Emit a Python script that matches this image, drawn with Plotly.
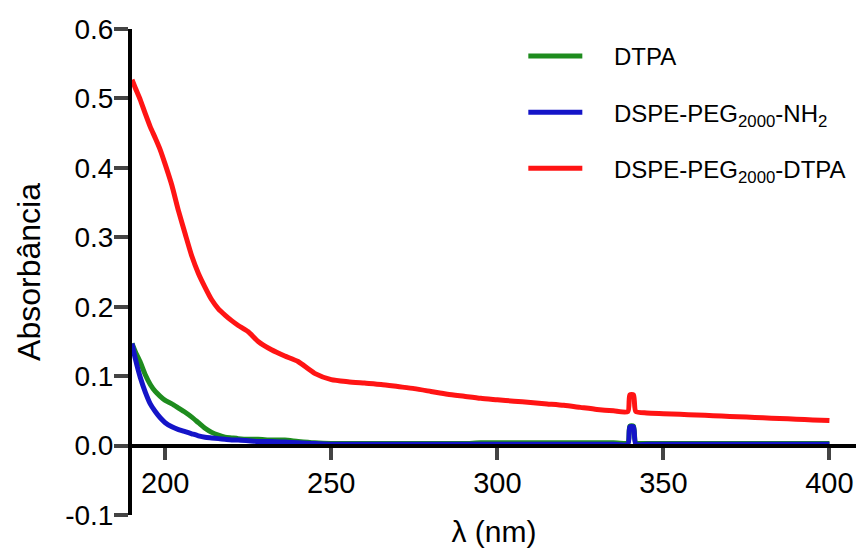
import plotly.graph_objects as go

wavelength = [190, 191, 192.5, 194, 195.5, 197, 198.5, 200, 202, 204, 206, 208, 210, 212, 214,
              216, 218, 220, 222, 225, 228, 232, 236, 240, 245, 250, 255, 260, 265, 270, 275,
              280, 285, 290, 295, 300, 305, 310, 315, 320, 325, 330, 335, 339.3, 339.9, 341.0,
              341.7, 345, 350, 355, 360, 365, 370, 375, 380, 385, 390, 395, 400]

abs_dtpa = [0.147, 0.135, 0.120, 0.102, 0.088, 0.078, 0.071, 0.065, 0.060, 0.054, 0.048, 0.041,
            0.033, 0.025, 0.019, 0.015, 0.012, 0.011, 0.010, 0.009, 0.009, 0.008, 0.008, 0.006,
            0.004, 0.003, 0.003, 0.003, 0.003, 0.003, 0.003, 0.003, 0.003, 0.003, 0.004, 0.004,
            0.004, 0.004, 0.004, 0.004, 0.004, 0.004, 0.004, 0.004, 0.028, 0.028, 0.004, 0.003,
            0.003, 0.003, 0.003, 0.003, 0.003, 0.003, 0.003, 0.003, 0.003, 0.003, 0.003]

abs_nh2 = [0.147, 0.125, 0.098, 0.077, 0.060, 0.049, 0.040, 0.033, 0.027, 0.023, 0.020, 0.017,
           0.014, 0.012, 0.011, 0.010, 0.009, 0.008, 0.008, 0.007, 0.006, 0.006, 0.005, 0.004,
           0.003, 0.002, 0.002, 0.002, 0.002, 0.002, 0.002, 0.002, 0.002, 0.002, 0.002, 0.002,
           0.002, 0.002, 0.002, 0.002, 0.002, 0.002, 0.002, 0.002, 0.027, 0.027, 0.002, 0.002,
           0.002, 0.002, 0.002, 0.002, 0.002, 0.002, 0.002, 0.002, 0.002, 0.002, 0.002]

abs_conj = [0.527, 0.515, 0.498, 0.478, 0.459, 0.443, 0.426, 0.405, 0.375, 0.338, 0.305, 0.273,
            0.248, 0.228, 0.210, 0.197, 0.188, 0.180, 0.173, 0.164, 0.150, 0.138, 0.129, 0.121,
            0.104, 0.095, 0.092, 0.090, 0.088, 0.085, 0.082, 0.078, 0.074, 0.071, 0.068, 0.066,
            0.064, 0.062, 0.060, 0.058, 0.055, 0.052, 0.050, 0.049, 0.073, 0.073, 0.049, 0.047,
            0.046, 0.045, 0.044, 0.043, 0.042, 0.041, 0.040, 0.039, 0.038, 0.037, 0.036]

series_names = ["DTPA", "DSPE-PEG<sub>2000</sub>-NH<sub>2</sub>", "DSPE-PEG<sub>2000</sub>-DTPA"]
series_colors = ["#1E8C1E", "#1414C8", "#FF1414"]
series_values = [abs_dtpa, abs_nh2, abs_conj]

x_ticks = [200, 250, 300, 350, 400]
y_ticks = [-0.1, 0.0, 0.1, 0.2, 0.3, 0.4, 0.5, 0.6]
y_ticktext = ["-0.1", "0.0", "0.1", "0.2", "0.3", "0.4", "0.5", "0.6"]

FONT = "Liberation Sans, Arial, sans-serif"
GAP = "\u00a0" * 4

fig = go.Figure()
draw_order = [2, 0, 1]
for i in draw_order:
    fig.add_trace(go.Scatter(
        x=wavelength, y=series_values[i], mode="lines", name=GAP + series_names[i],
        line=dict(color=series_colors[i], width=5, shape="spline", smoothing=0.6),
        legendrank=i + 1, legendgroup=str(i),
    ))

fig.update_layout(
    width=858, height=550,
    margin=dict(l=132, r=2, t=29, b=35),
    plot_bgcolor="white", paper_bgcolor="white",
    font=dict(family=FONT, color="black", size=26),
    showlegend=True,
    legend=dict(x=0.5405, y=0.99, xanchor="left", yanchor="top",
                font=dict(size=24, family=FONT), bgcolor="rgba(0,0,0,0)",
                tracegroupgap=22, itemwidth=54, traceorder="grouped"),
    xaxis=dict(range=[190, 408], tickvals=x_ticks, ticks="outside", ticklen=12, tickwidth=4,
               showline=True, linewidth=4, linecolor="black", showgrid=False, zeroline=False,
               anchor="free", position=1/7, ticklabelstandoff=-1,
               tickfont=dict(size=29),
               title=dict(text="λ (nm)", font=dict(size=30), standoff=22)),
    yaxis=dict(range=[-0.1, 0.6], tickvals=y_ticks, ticktext=y_ticktext, ticks="outside",
               ticklen=14, tickwidth=4, showline=True, linewidth=4, linecolor="black",
               showgrid=False, zeroline=False, tickfont=dict(size=28), ticklabelstandoff=-5,
               title=dict(text="Absorbância", font=dict(size=32), standoff=16)),
)

fig.write_html("out.html")
